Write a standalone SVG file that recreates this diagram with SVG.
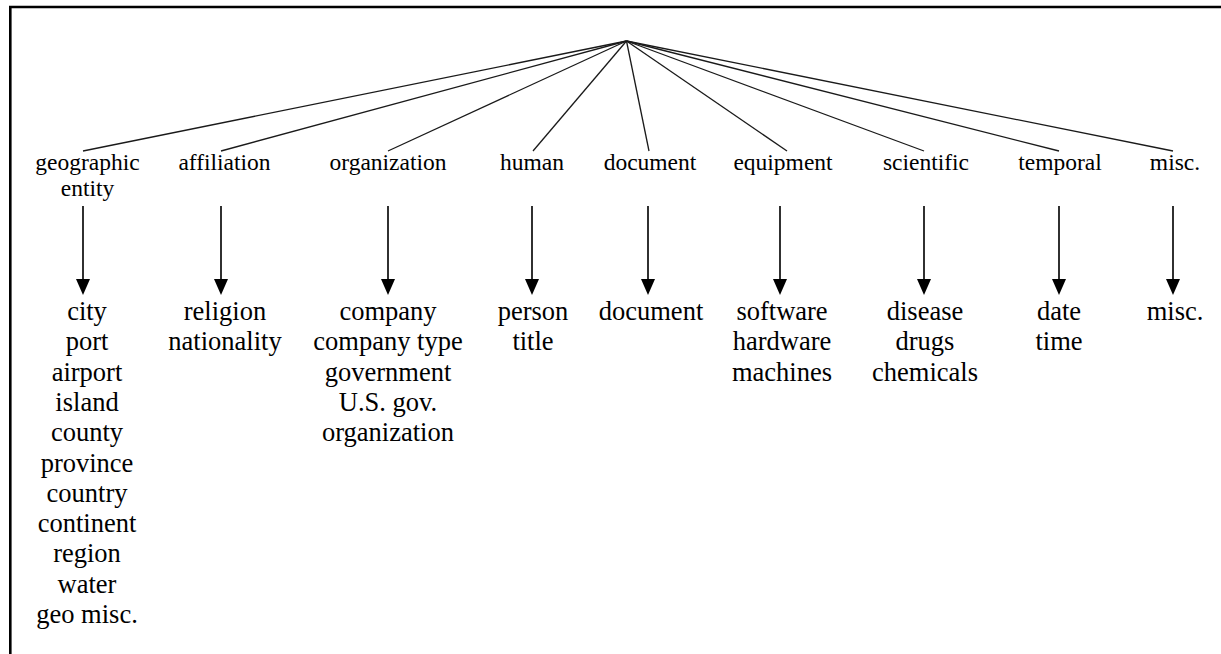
<svg xmlns="http://www.w3.org/2000/svg" width="1221" height="654" viewBox="0 0 1221 654" font-family="Liberation Serif, Times New Roman, DejaVu Serif, serif">
<style>
text{font-family:'Liberation Serif','Times New Roman','DejaVu Serif',serif}
.t{font-size:23.5px;fill:#000;text-anchor:middle}
.b{font-size:26.5px;fill:#000;text-anchor:middle}
.ln{stroke:#1a1a1a;stroke-width:1.3;fill:none}
.sh{stroke:#1a1a1a;stroke-width:1.8;fill:none}
.hd{fill:#000}
</style>
<rect width="1221" height="654" fill="#fff"/>
<g id="frame">
<path d="M10.3,654 L10.3,7 L1221,7" stroke="#000" stroke-width="2.6" fill="none"/>
</g>
<g id="connectors">
<line class="ln" x1="626.5" y1="41" x2="83" y2="151"/>
<line class="ln" x1="626.5" y1="41" x2="221" y2="151"/>
<line class="ln" x1="626.5" y1="41" x2="388" y2="151"/>
<line class="ln" x1="626.5" y1="41" x2="533" y2="151"/>
<line class="ln" x1="626.5" y1="41" x2="649" y2="151"/>
<line class="ln" x1="626.5" y1="41" x2="787" y2="151"/>
<line class="ln" x1="626.5" y1="41" x2="924" y2="151"/>
<line class="ln" x1="626.5" y1="41" x2="1059" y2="151"/>
<line class="ln" x1="626.5" y1="41" x2="1173" y2="151"/>
<g id="arrows">
<path class="sh" d="M83,206 L83,280"/><path class="hd" d="M76,279 L90,279 L83,295 Z"/>
<path class="sh" d="M221,206 L221,280"/><path class="hd" d="M214,279 L228,279 L221,295 Z"/>
<path class="sh" d="M388,206 L388,280"/><path class="hd" d="M381,279 L395,279 L388,295 Z"/>
<path class="sh" d="M532,206 L532,280"/><path class="hd" d="M525,279 L539,279 L532,295 Z"/>
<path class="sh" d="M648,206 L648,280"/><path class="hd" d="M641,279 L655,279 L648,295 Z"/>
<path class="sh" d="M780,206 L780,280"/><path class="hd" d="M773,279 L787,279 L780,295 Z"/>
<path class="sh" d="M924,206 L924,280"/><path class="hd" d="M917,279 L931,279 L924,295 Z"/>
<path class="sh" d="M1059,206 L1059,280"/><path class="hd" d="M1052,279 L1066,279 L1059,295 Z"/>
<path class="sh" d="M1173,206 L1173,280"/><path class="hd" d="M1166,279 L1180,279 L1173,295 Z"/>
</g>
</g>
<g id="geographic">
<text class="t" x="87.5" y="170">geographic</text>
<text class="t" x="87.5" y="196">entity</text>
</g>
<g id="affiliation"><text class="t" x="224.5" y="170">affiliation</text></g>
<g id="organization"><text class="t" x="388" y="170">organization</text></g>
<g id="human"><text class="t" x="532" y="170">human</text></g>
<g id="document"><text class="t" x="650" y="170">document</text></g>
<g id="equipment"><text class="t" x="783" y="170">equipment</text></g>
<g id="scientific"><text class="t" x="926" y="170">scientific</text></g>
<g id="temporal"><text class="t" x="1060" y="170">temporal</text></g>
<g id="misc"><text class="t" x="1175" y="170">misc.</text></g>
<g id="geographic-sub">
<text class="b" x="87" y="320">city</text>
<text class="b" x="87" y="350.3">port</text>
<text class="b" x="87" y="380.6">airport</text>
<text class="b" x="87" y="410.9">island</text>
<text class="b" x="87" y="441.2">county</text>
<text class="b" x="87" y="471.5">province</text>
<text class="b" x="87" y="501.8">country</text>
<text class="b" x="87" y="532.1">continent</text>
<text class="b" x="87" y="562.4">region</text>
<text class="b" x="87" y="592.7">water</text>
<text class="b" x="87" y="623">geo misc.</text>
</g>
<g id="affiliation-sub">
<text class="b" x="225" y="320">religion</text>
<text class="b" x="225" y="350.3">nationality</text>
</g>
<g id="organization-sub">
<text class="b" x="388" y="320">company</text>
<text class="b" x="388" y="350.3">company type</text>
<text class="b" x="388" y="380.6">government</text>
<text class="b" x="388" y="410.9">U.S. gov.</text>
<text class="b" x="388" y="441.2">organization</text>
</g>
<g id="human-sub">
<text class="b" x="533" y="320">person</text>
<text class="b" x="533" y="350.3">title</text>
</g>
<g id="document-sub"><text class="b" x="651" y="320">document</text></g>
<g id="equipment-sub">
<text class="b" x="782" y="320">software</text>
<text class="b" x="782" y="350.3">hardware</text>
<text class="b" x="782" y="380.6">machines</text>
</g>
<g id="scientific-sub">
<text class="b" x="925" y="320">disease</text>
<text class="b" x="925" y="350.3">drugs</text>
<text class="b" x="925" y="380.6">chemicals</text>
</g>
<g id="temporal-sub">
<text class="b" x="1059" y="320">date</text>
<text class="b" x="1059" y="350.3">time</text>
</g>
<g id="misc-sub"><text class="b" x="1175" y="320">misc.</text></g>
</svg>
